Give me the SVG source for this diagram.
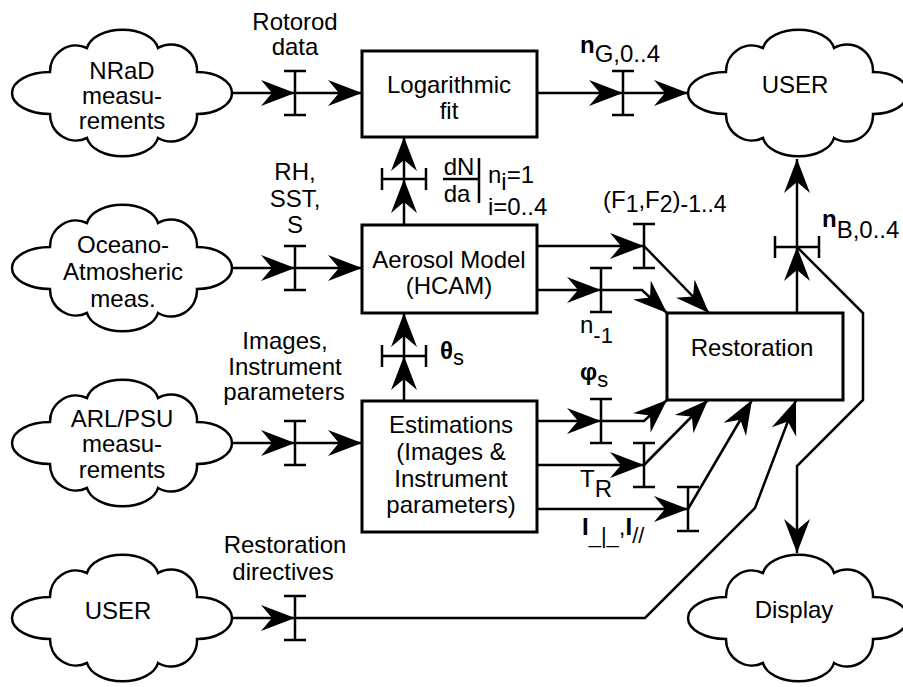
<svg xmlns="http://www.w3.org/2000/svg" xmlns:xlink="http://www.w3.org/1999/xlink" width="903" height="687" viewBox="0 0 903 687">
<style>
text{font-family:"Liberation Sans",Arial,Helvetica,sans-serif;font-size:24px;fill:#000}
.c{text-anchor:middle}
.b{font-weight:bold}
.box{fill:#fff;stroke:#000;stroke-width:3}
.cl{fill:#fff;stroke:#000;stroke-width:2.5}
.ln{fill:none;stroke:#000;stroke-width:2.5}
.tk{fill:none;stroke:#000;stroke-width:2.5}
</style>
<defs>
<marker id="ah" markerUnits="userSpaceOnUse" markerWidth="40" markerHeight="30" viewBox="-36 -15 40 30" refX="0" refY="0" orient="auto">
<path d="M0,0 L-34,-13 L-23,0 L-34,13 Z" fill="#000"/>
</marker>
<path id="cloud" d="M-72,21 A38,21 0 0 1 -72,-21 A26,26 0 0 1 -35,-45 A36,22 0 0 1 36,-45 A26,26 0 0 1 75,-21 A35,21 0 0 1 75,21 A26,26 0 0 1 36,45 A36,22 0 0 1 -35,45 A26,26 0 0 1 -72,21 Z"/>
<path id="tv" d="M0,-22 V22 M-11,-22 H11 M-11,22 H11"/>
<path id="th" d="M-22,0 H22 M-22,-11 V11 M22,-11 V11"/>
</defs>
<rect width="903" height="687" fill="#fff"/>

<g id="nrad">
<use xlink:href="#cloud" href="#cloud" class="cl" x="122" y="93"/>
<text class="c" x="122" y="79">NRaD</text>
<text class="c" x="122" y="104">measu-</text>
<text class="c" x="122" y="129">rements</text>
</g>
<g id="oceano">
<use xlink:href="#cloud" href="#cloud" class="cl" x="122" y="268"/>
<text class="c" x="123" y="253">Oceano-</text>
<text class="c" x="123" y="280">Atmosheric</text>
<text class="c" x="123" y="307">meas.</text>
</g>
<g id="arlpsu">
<use xlink:href="#cloud" href="#cloud" class="cl" x="122" y="443"/>
<text class="c" x="122" y="427">ARL/PSU</text>
<text class="c" x="122" y="452">measu-</text>
<text class="c" x="122" y="478">rements</text>
</g>
<g id="user-in">
<use xlink:href="#cloud" href="#cloud" class="cl" x="122" y="618"/>
<text class="c" x="118" y="619">USER</text>
</g>
<g id="user-out">
<use xlink:href="#cloud" href="#cloud" class="cl" x="798" y="93"/>
<text class="c" x="795" y="93">USER</text>
</g>
<g id="display">
<use xlink:href="#cloud" href="#cloud" class="cl" x="798" y="618"/>
<text class="c" x="794" y="618">Display</text>
</g>
<g id="logfit">
<rect class="box" x="362" y="51" width="175" height="86"/>
<text class="c" x="449" y="93">Logarithmic</text>
<text class="c" x="449" y="119">fit</text>
</g>
<g id="aerosol">
<rect class="box" x="362" y="225" width="175" height="88"/>
<text class="c" x="449" y="268">Aerosol Model</text>
<text class="c" x="449" y="294">(HCAM)</text>
</g>
<g id="estimations">
<rect class="box" x="362" y="401" width="175" height="131"/>
<text class="c" x="451" y="433">Estimations</text>
<text class="c" x="451" y="460">(Images &amp;</text>
<text class="c" x="451" y="487">Instrument</text>
<text class="c" x="451" y="513">parameters)</text>
</g>
<g id="restoration">
<rect class="box" x="667" y="313" width="176" height="87"/>
<text class="c" x="752" y="356">Restoration</text>
</g>

<g id="connectors" class="ln">
<path d="M232,93 H295" marker-end="url(#ah)"/>
<path d="M295,93 H362" marker-end="url(#ah)"/>
<path d="M537,93 H623" marker-end="url(#ah)"/>
<path d="M623,93 H688" marker-end="url(#ah)"/>
<path d="M232,268 H295" marker-end="url(#ah)"/>
<path d="M295,268 H362" marker-end="url(#ah)"/>
<path d="M232,443 H295" marker-end="url(#ah)"/>
<path d="M295,443 H362" marker-end="url(#ah)"/>
<path d="M404,225 V179" marker-end="url(#ah)"/>
<path d="M404,179 V137" marker-end="url(#ah)"/>
<path d="M404,401 V356" marker-end="url(#ah)"/>
<path d="M404,356 V313" marker-end="url(#ah)"/>
<path d="M537,246 H644" marker-end="url(#ah)"/>
<path d="M644,246 L709,313" marker-end="url(#ah)"/>
<path d="M537,290 H601" marker-end="url(#ah)"/>
<path d="M601,290 H642 L667,313" marker-end="url(#ah)"/>
<path d="M537,421 H601" marker-end="url(#ah)"/>
<path d="M601,421 H644 L667,400" marker-end="url(#ah)"/>
<path d="M537,465 H644" marker-end="url(#ah)"/>
<path d="M644,465 L708,400" marker-end="url(#ah)"/>
<path d="M537,509 H688" marker-end="url(#ah)"/>
<path d="M688,509 L752,400" marker-end="url(#ah)"/>
<path d="M232,618 H295" marker-end="url(#ah)"/>
<path d="M295,618 H645 L755,508 L796,400" marker-end="url(#ah)"/>
<path d="M797,313 V247" marker-end="url(#ah)"/>
<path d="M797,247 V159" marker-end="url(#ah)"/>
<path d="M797,247 L863,313 V400 L797,466 V553" marker-end="url(#ah)"/>
</g>
<g id="ticks" class="tk">
<use xlink:href="#tv" href="#tv" x="295" y="93"/>
<use xlink:href="#tv" href="#tv" x="623" y="93"/>
<use xlink:href="#tv" href="#tv" x="295" y="268"/>
<use xlink:href="#tv" href="#tv" x="295" y="443"/>
<use xlink:href="#tv" href="#tv" x="295" y="618"/>
<use xlink:href="#tv" href="#tv" x="644" y="246"/>
<use xlink:href="#tv" href="#tv" x="601" y="290"/>
<use xlink:href="#tv" href="#tv" x="601" y="421"/>
<use xlink:href="#tv" href="#tv" x="644" y="465"/>
<use xlink:href="#tv" href="#tv" x="688" y="509"/>
<use xlink:href="#th" href="#th" x="404" y="179"/>
<use xlink:href="#th" href="#th" x="404" y="356"/>
<use xlink:href="#th" href="#th" x="797" y="247"/>
</g>

<g id="labels">
<text class="c" x="295" y="30">Rotorod</text>
<text class="c" x="295" y="55">data</text>
<text x="580" y="53"><tspan class="b">n</tspan><tspan dy="9">G,0..4</tspan></text>
<text class="c" x="295" y="180">RH,</text>
<text class="c" x="295" y="207">SST,</text>
<text class="c" x="295" y="233">S</text>
<text class="c" x="285" y="349">Images,</text>
<text class="c" x="285" y="375">Instrument</text>
<text class="c" x="284" y="400">parameters</text>
<text class="c" x="285" y="553">Restoration</text>
<text class="c" x="283" y="580">directives</text>
<text class="c" x="459" y="175" font-size="22">dN</text>
<path d="M443,179 H479 M479,158 V203" fill="none" stroke="#000" stroke-width="2.5"/>
<text class="c" x="457" y="202" font-size="22">da</text>
<text x="488" y="183" font-size="20">n<tspan dy="7">i</tspan><tspan dy="-7">=1</tspan></text>
<text x="488" y="215" font-size="20">i=0..4</text>
<text x="440" y="359"><tspan class="b">θ</tspan><tspan dy="6" font-size="22">s</tspan></text>
<text x="603" y="208">(F<tspan dy="4" font-size="23">1</tspan><tspan dy="-4">,F</tspan><tspan dy="4" font-size="23">2</tspan><tspan dy="-4">)</tspan><tspan dy="4" font-size="23">-1..4</tspan></text>
<text x="580" y="333">n<tspan dy="10" font-size="22">-1</tspan></text>
<text x="580" y="380"><tspan class="b">φ</tspan><tspan dy="7" font-size="22">s</tspan></text>
<text x="580" y="487">T<tspan dy="10">R</tspan></text>
<text x="582" y="535"><tspan class="b">I</tspan><tspan dy="8" font-size="22">_|_</tspan><tspan dy="-8">,</tspan><tspan class="b">I</tspan><tspan dy="8" font-size="22">//</tspan></text>
<text x="822" y="227"><tspan class="b">n</tspan><tspan dy="11">B,0..4</tspan></text>
</g>
</svg>
